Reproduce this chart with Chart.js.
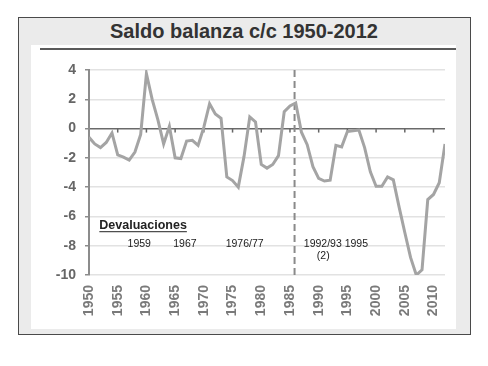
<!DOCTYPE html>
<html>
<head>
<meta charset="utf-8">
<script src="https://cdn.jsdelivr.net/npm/chart.js@4.4.1/dist/chart.umd.min.js"></script>
<style>
  html, body { margin: 0; padding: 0; background: #fff; }
  #page { position: relative; width: 488px; height: 366px; overflow: hidden; }
  #outer { position: absolute; left: 18px; top: 17px; width: 451px; height: 316px; border: 1px solid #4a4a4a; background: #ebebeb; }
  #inner { position: absolute; left: 31px; top: 45px; width: 425px; height: 284px; background: #fff; }
  #rule { position: absolute; left: 40px; top: 48px; width: 416px; height: 2px; background: #5a5a5a; }
  #title { position: absolute; left: 0; top: 19px; width: 488px; text-align: center;
           font: bold 20px "Liberation Sans", Arial, sans-serif; color: #333; line-height: 24px; }
  #wrap { position: absolute; left: 0; top: 0; width: 488px; height: 366px; }
</style>
</head>
<body>
<div id="page">
  <div id="outer"></div>
  <div id="inner"></div>
  <div id="rule"></div>
  <div id="title">Saldo balanza c/c 1950-2012</div>
  <div id="wrap"><canvas id="c" width="488" height="366"></canvas></div>
</div>
<script>
// ---- data ----
const years = [1950,1951,1952,1953,1954,1955,1956,1957,1958,1959,
               1960,1961,1962,1963,1964,1965,1966,1967,1968,1969,
               1970,1971,1972,1973,1974,1975,1976,1977,1978,1979,
               1980,1981,1982,1983,1984,1985,1986,1987,1988,1989,
               1990,1991,1992,1993,1994,1995,1996,1997,1998,1999,
               2000,2001,2002,2003,2004,2005,2006,2007,2008,2009,
               2010,2011,2012];
const saldo = [-0.6,-1.05,-1.3,-0.95,-0.3,-1.8,-1.95,-2.15,-1.6,-0.4,
               3.75,2.0,0.6,-1.05,0.15,-2.0,-2.05,-0.85,-0.8,-1.15,
               0.1,1.7,1.0,0.7,-3.3,-3.55,-4.0,-1.9,0.8,0.45,
               -2.45,-2.7,-2.45,-1.85,1.15,1.55,1.75,-0.25,-1.1,-2.6,
               -3.4,-3.58,-3.53,-1.15,-1.25,-0.2,-0.15,-0.1,-1.3,-2.95,
               -3.94,-3.94,-3.3,-3.5,-5.35,-7.1,-8.8,-10.0,-9.65,-4.85,
               -4.5,-3.7,-1.05];
const yTicks = [-10,-8,-6,-4,-2,0,2,4];
const xTickStep = 5;
const dividerYear = 1985.8;
const annotations = [
  { text: "Devaluaciones", x: 1951.8, y: -6.6, align: "left", bold: true, underline: true },
  { text: "1959", x: 1958.75, y: -7.9, align: "center" },
  { text: "1967", x: 1966.7, y: -7.9, align: "center" },
  { text: "1976/77", x: 1977.1, y: -7.9, align: "center" },
  { text: "1992/93 1995", x: 1993.0, y: -7.9, align: "center" },
  { text: "(2)", x: 1990.8, y: -8.72, align: "center" }
];

const FONT = '"Liberation Sans", Arial, sans-serif';

const extras = {
  id: 'extras',
  beforeDatasetsDraw(chart) {
    const { ctx, chartArea, scales } = chart;
    const xs = scales.x, ys = scales.y;
    // tick marks on the zero line
    const y0 = ys.getPixelForValue(0);
    ctx.save();
    ctx.strokeStyle = '#666';
    ctx.lineWidth = 1.5;
    for (let yr = years[0] + xTickStep; yr <= years[years.length - 1]; yr += xTickStep) {
      const px = xs.getPixelForValue(yr);
      ctx.beginPath();
      ctx.moveTo(px, y0);
      ctx.lineTo(px, y0 + 4);
      ctx.stroke();
    }
    // dashed divider
    const dx = xs.getPixelForValue(dividerYear);
    ctx.strokeStyle = '#8a8a8a';
    ctx.lineWidth = 2;
    ctx.setLineDash([7, 4]);
    ctx.beginPath();
    ctx.moveTo(dx, chartArea.top);
    ctx.lineTo(dx, chartArea.bottom);
    ctx.stroke();
    ctx.restore();
  },
  afterDatasetsDraw(chart) {
    const { ctx, scales } = chart;
    const xs = scales.x, ys = scales.y;
    ctx.save();
    ctx.fillStyle = '#222';
    ctx.textBaseline = 'middle';
    annotations.forEach(a => {
      ctx.font = (a.bold ? 'bold 12.5px ' : '10.5px ') + FONT;
      ctx.textAlign = a.align;
      const px = xs.getPixelForValue(a.x);
      const py = ys.getPixelForValue(a.y);
      ctx.fillText(a.text, px, py);
      if (a.underline) {
        const w = ctx.measureText(a.text).width;
        ctx.strokeStyle = '#222';
        ctx.lineWidth = 1;
        ctx.beginPath();
        ctx.moveTo(px, py + 6.5);
        ctx.lineTo(px + w, py + 6.5);
        ctx.stroke();
      }
    });
    ctx.restore();
  }
};

new Chart(document.getElementById('c'), {
  type: 'line',
  data: {
    datasets: [{
      label: 'Saldo balanza c/c',
      data: years.map((yr, i) => ({ x: yr, y: saldo[i] })),
      borderColor: '#a4a4a4',
      borderWidth: 3,
      pointRadius: 0,
      tension: 0,
      fill: false
    }]
  },
  options: {
    responsive: false,
    animation: false,
    layout: { padding: { left: 31, right: 43, top: 70, bottom: 20 } },
    plugins: { legend: { display: false }, title: { display: false }, tooltip: { enabled: false } },
    scales: {
      x: {
        type: 'linear',
        min: years[0],
        max: years[years.length - 1],
        grid: { display: false, drawTicks: false },
        border: { display: false },
        afterFit(s) { s.height = 71; },
        ticks: {
          stepSize: xTickStep,
          includeBounds: false,
          autoSkip: false,
          maxRotation: 90,
          minRotation: 90,
          padding: 10,
          color: '#7a7a7a',
          font: { family: FONT, size: 14, weight: 'bold' },
          callback: v => String(v)
        }
      },
      y: {
        type: 'linear',
        min: yTicks[0],
        max: yTicks[yTicks.length - 1],
        afterFit(s) { s.width = 58; },
        afterBuildTicks(s) { s.ticks = yTicks.map(v => ({ value: v })); },
        grid: {
          color: c => (c.tick && c.tick.value === 0) ? '#6a6a6a' : '#e2e2e2',
          lineWidth: c => (c.tick && c.tick.value === 0) ? 1.5 : 1.5,
          tickColor: '#8c8c8c',
          tickLength: 4,
          drawTicks: true
        },
        border: { display: true, color: '#8c8c8c', width: 2 },
        ticks: {
          padding: 9,
          color: '#666',
          font: { family: FONT, size: 14, weight: 'bold' }
        }
      }
    }
  },
  plugins: [extras]
});
</script>
</body>
</html>
